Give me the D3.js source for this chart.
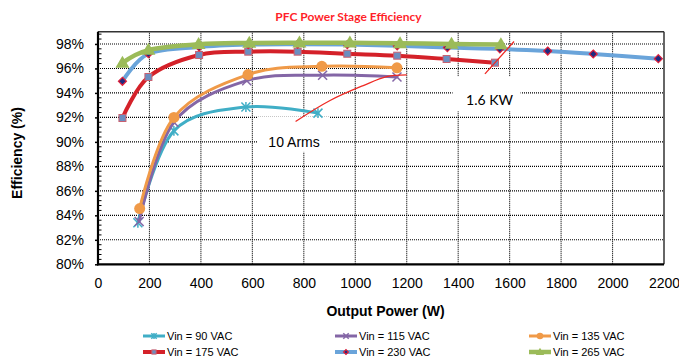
<!DOCTYPE html>
<html><head><meta charset="utf-8">
<script src="https://cdn.jsdelivr.net/npm/d3@7"></script>
<style>
html,body{margin:0;padding:0;background:#fff;}
svg{display:block;font-family:"Liberation Sans",Arial,sans-serif;}
</style></head>
<body>
<script>
// ---- data ----
const xTicks = [0,200,400,600,800,1000,1200,1400,1600,1800,2000,2200];
const yTicks = [80,82,84,86,88,90,92,94,96,98];
const seriesNames = ["Vin = 90 VAC","Vin = 115 VAC","Vin = 135 VAC","Vin = 175 VAC","Vin = 230 VAC","Vin = 265 VAC"];
const vin90  = [[155,83.4],[295,90.9],[575,92.85],[855,92.35]];
const vin115 = [[160,83.5],[295,91.6],[578,95.0],[873,95.45],[1162,95.3]];
const vin135 = [[162,84.55],[295,92.0],[583,95.5],[870,96.17],[1162,96.05]];
const vin175 = [[95,91.95],[196,95.3],[393,97.1],[584,97.37],[776,97.37],[969,97.2],[1163,97.04],[1355,96.77],[1543,96.47]];
const vin230 = [[95,94.95],[196,97.2],[393,97.75],[584,97.95],[776,97.98],[969,97.95],[1163,97.85],[1358,97.7],[1562,97.6],[1748,97.42],[1925,97.18],[2178,96.8]];
const vin265 = [[95,96.45],[196,97.5],[391,97.98],[588,98.08],[783,98.1],[979,98.1],[1174,98.05],[1374,98.0],[1566,97.95]];
const armsLine = [[768,91.67],[902,93.38],[1031,94.6],[1122,95.33],[1200,95.47]];
const kwLine = [[1504,95.55],[1617,98.2]];
const armsLabel = {text:"10 Arms", x:762, y:90.0};
const kwLabel = {text:"1.6 KW", x:1522, y:93.4};

const W = 679, H = 362;
const svg = d3.select("body").append("svg").attr("width",W).attr("height",H);
const x = d3.scaleLinear().domain([0,2200]).range([98,664]);
const y = d3.scaleLinear().domain([80,99]).range([264.3,31.7]);

// title
svg.append("text").attr("x",348.5).attr("y",21).attr("text-anchor","middle")
  .attr("font-family","Lato, 'Open Sans', sans-serif").attr("font-weight","bold")
  .attr("font-size",12).attr("fill","#ff1f2a").text("PFC Power Stage Efficiency");

// grid
const grid = svg.append("g");
grid.selectAll(".hg").data(yTicks.filter(d=>d>80)).join("line")
  .attr("x1",x(0)).attr("x2",x(2200)).attr("y1",d=>y(d)).attr("y2",d=>y(d))
  .attr("stroke","#000").attr("stroke-width",1.1).attr("stroke-dasharray","1,1");
grid.selectAll(".vg").data(xTicks.filter(d=>d>0&&d<2200)).join("line")
  .attr("y1",y(80)).attr("y2",y(99)).attr("x1",d=>x(d)).attr("x2",d=>x(d))
  .attr("stroke","#000").attr("stroke-width",1.1).attr("stroke-dasharray","1,1");

// annotation boxes (white, cover grid)
function labelBox(l, dx0, dx1, dy0, dy1){
  svg.append("rect").attr("x",x(l.x)+dx0).attr("y",y(l.y)+dy0)
    .attr("width",dx1-dx0).attr("height",dy1-dy0).attr("fill","#fff");
}
labelBox(armsLabel,-37,36,-25,10);
labelBox(kwLabel,-37,31,-24,11);

// border
svg.append("line").attr("x1",x(0)).attr("x2",x(2200)).attr("y1",y(99)).attr("y2",y(99)).attr("stroke","#333").attr("stroke-width",1.5);
svg.append("line").attr("x1",x(2200)).attr("x2",x(2200)).attr("y1",y(99)).attr("y2",y(80)).attr("stroke","#333").attr("stroke-width",1.5);

// axes
const yAxis = d3.axisLeft(y).tickValues(yTicks).tickSize(3).tickFormat(d=>d+"%");
const gy = svg.append("g").attr("transform",`translate(${x(0)},0)`).call(yAxis);
gy.select(".domain").remove();
gy.selectAll("text").attr("font-size",14).attr("font-family","'Liberation Sans',Arial,sans-serif").attr("fill","#000").attr("x",-14);
gy.selectAll("line").attr("stroke","#000").attr("stroke-width",1.5);
// minor ticks
const minor = d3.range(80.4,99,0.4).filter(v=>Math.abs(v/2-Math.round(v/2))>0.01);
svg.append("g").selectAll("line").data(minor).join("line")
  .attr("x1",x(0)).attr("x2",x(0)+3.5).attr("y1",d=>y(d)).attr("y2",d=>y(d))
  .attr("stroke","#000").attr("stroke-width",1);

const xAxis = d3.axisBottom(x).tickValues(xTicks).tickSize(0).tickFormat(d3.format("d"));
const gx = svg.append("g").attr("transform",`translate(0,${y(80)})`).call(xAxis);
gx.select(".domain").remove();
gx.selectAll("text").attr("font-size",14).attr("font-family","'Liberation Sans',Arial,sans-serif").attr("fill","#000").attr("dy",0).attr("y",23.5);

svg.append("line").attr("x1",x(0)).attr("x2",x(0)).attr("y1",y(99)).attr("y2",y(80)+1).attr("stroke","#000").attr("stroke-width",2.2);
svg.append("line").attr("x1",x(0)-1).attr("x2",x(2200)).attr("y1",y(80)).attr("y2",y(80)).attr("stroke","#000").attr("stroke-width",2.2);

// axis titles
svg.append("text").attr("x",385.5).attr("y",316).attr("text-anchor","middle")
  .attr("font-weight","bold").attr("font-size",14).text("Output Power (W)");
svg.append("text").attr("transform","translate(22,153) rotate(-90)").attr("text-anchor","middle")
  .attr("font-weight","bold").attr("font-size",14).text("Efficiency (%)");

// series
const line = d3.line().x(d=>x(d[0])).y(d=>y(d[1])).curve(d3.curveCardinal.tension(0));
const series = [
  {data:vin90,  color:"#40aec6", width:3, marker:"star"},
  {data:vin115, color:"#8466a6", width:3, marker:"x"},
  {data:vin135, color:"#f09a48", width:3, marker:"circle"},
  {data:vin175, color:"#d42129", width:4, marker:"square"},
  {data:vin230, color:"#6aa4da", width:4, marker:"diamond"},
  {data:vin265, color:"#9bbb59", width:4.5, marker:"triangle"}
];

function drawMarker(g, type, color, cx, cy, scale){
  const s = scale||1;
  if(type==="star"){
    const r=4.5*s;
    [[-r,-r,r,r],[-r,r,r,-r],[0,-r*1.1,0,r*1.1]].forEach(a=>
      g.append("line").attr("x1",cx+a[0]).attr("y1",cy+a[1]).attr("x2",cx+a[2]).attr("y2",cy+a[3])
       .attr("stroke",color).attr("stroke-width",1.5));
  } else if(type==="x"){
    const r=4.5*s;
    [[-r,-r,r,r],[-r,r,r,-r]].forEach(a=>
      g.append("line").attr("x1",cx+a[0]).attr("y1",cy+a[1]).attr("x2",cx+a[2]).attr("y2",cy+a[3])
       .attr("stroke",color).attr("stroke-width",1.5));
  } else if(type==="circle"){
    g.append("circle").attr("cx",cx).attr("cy",cy).attr("r",5.5*s).attr("fill",color);
  } else if(type==="square"){
    const h=3.5*s;
    g.append("rect").attr("x",cx-h).attr("y",cy-h).attr("width",2*h).attr("height",2*h)
      .attr("fill","#6b8ec0").attr("stroke","#c96070").attr("stroke-width",1);
  } else if(type==="diamond"){
    const h=4*s;
    g.append("path").attr("d",`M${cx},${cy-h}L${cx+h},${cy}L${cx},${cy+h}L${cx-h},${cy}Z`)
      .attr("fill","#1d2a80").attr("stroke","#e0203a").attr("stroke-width",1.2);
  } else if(type==="triangle"){
    const w=7*s, h=12*s;
    g.append("path").attr("d",`M${cx},${cy-h*0.6}L${cx+w},${cy+h*0.4}L${cx-w},${cy+h*0.4}Z`)
      .attr("fill",color);
  }
}

series.forEach(se=>{
  const g = svg.append("g");
  g.append("path").datum(se.data).attr("d",line).attr("fill","none")
    .attr("stroke",se.color).attr("stroke-width",se.width).attr("stroke-linecap","round");
  se.data.forEach(d=>drawMarker(g,se.marker,se.color,x(d[0]),y(d[1])));
});

// annotation lines
svg.append("path").datum(armsLine).attr("d",d3.line().x(d=>x(d[0])).y(d=>y(d[1])).curve(d3.curveCatmullRom))
  .attr("fill","none").attr("stroke","#ee2a24").attr("stroke-width",1.3);
svg.append("path").datum(kwLine).attr("d",d3.line().x(d=>x(d[0])).y(d=>y(d[1])))
  .attr("fill","none").attr("stroke","#ee2a24").attr("stroke-width",1.3);

// annotation text
svg.append("text").attr("x",x(armsLabel.x)).attr("y",y(armsLabel.y)+5).attr("text-anchor","middle")
  .attr("font-size",14).text(armsLabel.text);
svg.append("text").attr("x",x(kwLabel.x)).attr("y",y(kwLabel.y)+5).attr("text-anchor","middle")
  .attr("font-family","Lato, 'Open Sans', sans-serif").attr("font-size",14).text(kwLabel.text);

// legend
const legCols = [143,335,529];
const legRows = [336,352];
series.forEach((se,i)=>{
  const lx = legCols[i%3], ly = legRows[Math.floor(i/3)];
  const g = svg.append("g");
  g.append("line").attr("x1",lx).attr("x2",lx+22).attr("y1",ly).attr("y2",ly)
    .attr("stroke",se.color).attr("stroke-width",se.width);
  drawMarker(g,se.marker,se.color,lx+11,ly,0.6);
  g.append("text").attr("x",lx+24).attr("y",ly+4).attr("font-size",11).text(seriesNames[i]);
});
</script>
</body></html>
